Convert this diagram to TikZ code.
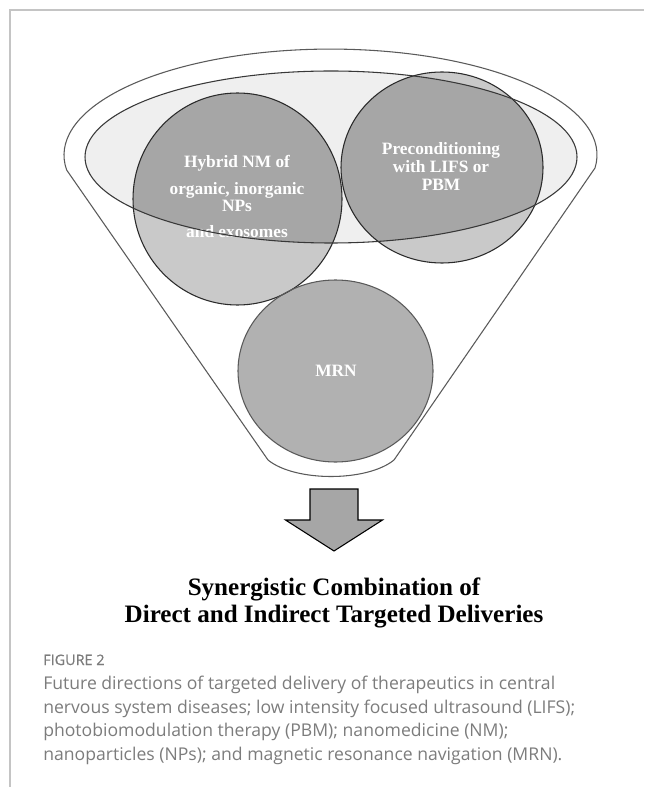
\documentclass[tikz,border=0pt]{standalone}
\usepackage{fontspec}
\setmainfont{Liberation Serif}
\newfontfamily\capfont{Open Sans}
\newfontfamily\figfont{Open Sans}[FakeBold=0.5]
\definecolor{framecol}{HTML}{C4C4C4}
\definecolor{funnelcol}{HTML}{5A5A5A}
\definecolor{ringfill}{HTML}{EFEFEF}
\definecolor{ringcol}{HTML}{383838}
\definecolor{darkball}{HTML}{A6A6A6}
\definecolor{lightball}{HTML}{C9C9C9}
\definecolor{mrnfill}{HTML}{B1B1B1}
\definecolor{ballcol}{HTML}{2A2A2A}
\definecolor{capcol}{HTML}{7C7C7C}
\begin{document}
\begin{tikzpicture}[x=0.75pt,y=-0.75pt,
  funnel/.style={draw=funnelcol,line width=0.8pt,fill=white},
  ringline/.style={draw=ringcol,line width=0.8pt},
  ballline/.style={draw=ballcol,line width=0.8pt},
  balltext/.style={text=white,font=\fontsize{13}{13.5}\selectfont\bfseries,align=center,inner sep=0pt},
  title/.style={font=\fontsize{18.8}{20}\selectfont\bfseries,inner sep=0pt},
  figlab/.style={text=capcol,font=\figfont\fontsize{10.8}{13}\selectfont,inner sep=0pt},
  captext/.style={text=capcol,font=\capfont\fontsize{13.2}{17.6}\selectfont,align=left,inner sep=0pt},
  bigarrow/.style={draw=black,line width=0.8pt,fill=darkball}]
\useasboundingbox (0,0) rectangle (644,787);
% frame
\draw[framecol,line width=1.5pt] (9.5,787) -- (9.5,10) -- (644,10);
% funnel body
\draw[funnel] (595,168) arc[start angle=7,end angle=-188.1,x radius=266.5,y radius=106]
  -- (268,460) .. controls (295,482) and (367,482) .. (394,460) -- cycle;
% inner ellipse fill
\path[fill=ringfill] (331,157) ellipse [x radius=246,y radius=86];
% circles
\path[fill=lightball] (237.5,199) ellipse [x radius=104.5,y radius=106];
\path[fill=lightball] (442,167.5) ellipse [x radius=101,y radius=95.5];
\path[fill=mrnfill] (335.5,371) ellipse [x radius=97.5,y radius=91];
\begin{scope}
  \clip (331,157) ellipse [x radius=246,y radius=86];
  \path[fill=darkball] (237.5,199) ellipse [x radius=104.5,y radius=106];
  \path[fill=darkball] (442,167.5) ellipse [x radius=101,y radius=95.5];
\end{scope}
\draw[ballline] (237.5,199) ellipse [x radius=104.5,y radius=106];
\draw[ballline] (442,167.5) ellipse [x radius=101,y radius=95.5];
\draw[ballline,draw=funnelcol] (335.5,371) ellipse [x radius=97.5,y radius=91];
% circle texts (base = baseline of last line)
\node[balltext,anchor=base] (hyb) at (237,238) {Hybrid NM of\\[6.75pt]organic, inorganic\\[-0.75pt]NPs\\[6pt]and exosomes};
\node[balltext,anchor=base] (pre) at (441,191) {Preconditioning\\with LIFS or\\PBM};
\node[balltext,anchor=base] (mrn) at (336,376) {MRN};
% inner ellipse outline
\draw[ringline] (331,157) ellipse [x radius=246,y radius=86];
% arrow
\draw[bigarrow] (310,489) -- (358,489) -- (358,520) -- (382.5,520) -- (334,551)
  -- (285.5,520) -- (310,520) -- cycle;
% title
\node[title,anchor=base] (t1) at (334,595) {Synergistic Combination of};
\node[title,anchor=base] (t2) at (334,622) {Direct and Indirect Targeted Deliveries};
% caption
\node[figlab,anchor=base west] (fig) at (43,665) {FIGURE 2};
\node[captext,anchor=base west] (cap) at (43,760) {Future directions of targeted delivery of therapeutics in central\\nervous system diseases; low intensity focused ultrasound (LIFS);\\photobiomodulation therapy (PBM); nanomedicine (NM);\\nanoparticles (NPs); and magnetic resonance navigation (MRN).};
\end{tikzpicture}
\end{document}
